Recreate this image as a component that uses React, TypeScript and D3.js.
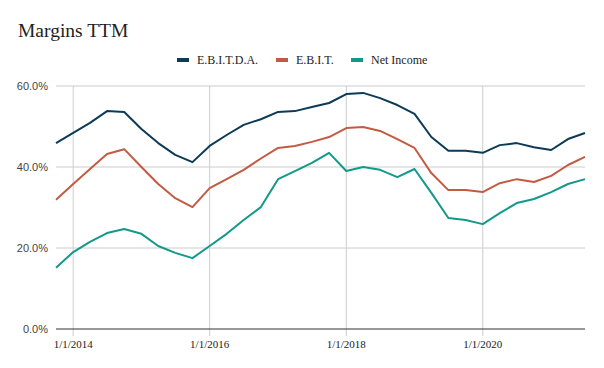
import React from "react";
import * as d3 from "d3";

// quarterly dates, Q4 2013 .. Q3 2021
const quarters = [
  "2013-10-01", "2014-01-01", "2014-04-01", "2014-07-01", "2014-10-01",
  "2015-01-01", "2015-04-01", "2015-07-01", "2015-10-01",
  "2016-01-01", "2016-04-01", "2016-07-01", "2016-10-01",
  "2017-01-01", "2017-04-01", "2017-07-01", "2017-10-01",
  "2018-01-01", "2018-04-01", "2018-07-01", "2018-10-01",
  "2019-01-01", "2019-04-01", "2019-07-01", "2019-10-01",
  "2020-01-01", "2020-04-01", "2020-07-01", "2020-10-01",
  "2021-01-01", "2021-04-01", "2021-07-01",
];

const ebitda = [
  45.9, 48.4, 50.9, 53.8, 53.6, 49.4, 45.9, 43.0, 41.2,
  45.2, 47.9, 50.4, 51.8, 53.6, 53.8, 54.8, 55.8,
  58.0, 58.3, 57.0, 55.3, 53.1, 47.4, 44.0, 44.0,
  43.5, 45.4, 45.9, 44.9, 44.2, 46.9, 48.4,
];
const ebit = [
  31.9, 35.8, 39.5, 43.2, 44.4, 40.0, 35.8, 32.3, 30.1,
  34.8, 37.0, 39.3, 42.1, 44.7, 45.2, 46.2, 47.4,
  49.6, 49.9, 48.9, 46.9, 44.7, 38.5, 34.3, 34.3,
  33.8, 36.0, 37.0, 36.3, 37.8, 40.5, 42.5,
];
const netIncome = [
  15.1, 19.0, 21.5, 23.7, 24.7, 23.5, 20.5, 18.8, 17.5,
  20.5, 23.5, 26.9, 30.1, 37.0, 39.0, 41.0, 43.5,
  39.0, 40.0, 39.3, 37.5, 39.5, 33.6, 27.4, 26.9,
  25.9, 28.6, 31.1, 32.1, 33.8, 35.8, 37.0,
];

const seriesNames = ["E.B.I.T.D.A.", "E.B.I.T.", "Net Income"];
const colors = ["#0d3a55", "#c25b43", "#13998a"];
const yTicks = [0, 20, 40, 60];
const xTickDates = ["2014-01-01", "2016-01-01", "2018-01-01", "2020-01-01"];

const width = 604;
const height = 368;
const left = 56, right = 585, top = 86, bottom = 329;

export default function App() {
  const parse = d3.timeParse("%Y-%m-%d");
  const dates = quarters.map((d) => parse(d) as Date);
  const x = d3.scaleTime().domain([dates[0], dates[dates.length - 1]]).range([left, right]);
  const y = d3.scaleLinear().domain([0, 60]).range([bottom, top]);
  const fmtX = d3.timeFormat("%-m/%-d/%Y");

  const allSeries = [ebitda, ebit, netIncome];
  const line = d3.line<number>()
    .x((d, i) => x(dates[i]))
    .y((d) => y(d));

  const legendX = [177, 276, 351];

  return (
    <svg width={width} height={height} style={{ position: "absolute", left: 0, top: 0 }}>
      <rect width={width} height={height} fill="#fff" />
      <text x={18} y={37} fontFamily="Liberation Serif, serif" fontSize={19.5} fill="#1e1e1e">
        Margins TTM
      </text>

      {seriesNames.map((name, i) => (
        <g key={name}>
          <rect x={legendX[i]} y={58} width={12} height={4} fill={colors[i]} />
          <text x={legendX[i] + 20} y={64} fontFamily="Liberation Serif, serif" fontSize={12} fill="#222">
            {name}
          </text>
        </g>
      ))}

      {yTicks.filter((t) => t > 0).map((t) => (
        <line key={t} x1={left} x2={right} y1={y(t)} y2={y(t)} stroke="#cccccc" strokeWidth={1} />
      ))}
      {xTickDates.map((s) => {
        const d = parse(s) as Date;
        return (
          <g key={s}>
            <line x1={x(d)} x2={x(d)} y1={top} y2={bottom + 7} stroke="#cccccc" strokeWidth={1} />
            <text x={x(d)} y={348} textAnchor="middle" fontFamily="Liberation Serif, serif" fontSize={11} fill="#222">
              {fmtX(d)}
            </text>
          </g>
        );
      })}
      {yTicks.map((t) => (
        <text key={t} x={48} y={y(t) + 4} textAnchor="end" fontFamily="Liberation Sans, Arial, sans-serif" fontSize={11} fill="#444">
          {t.toFixed(1) + "%"}
        </text>
      ))}
      <line x1={left} x2={right} y1={bottom} y2={bottom} stroke="#333" strokeWidth={1.2} />

      {allSeries.map((s, i) => (
        <path key={i} d={line(s) || ""} fill="none" stroke={colors[i]} strokeWidth={2} strokeLinejoin="round" />
      ))}
    </svg>
  );
}
